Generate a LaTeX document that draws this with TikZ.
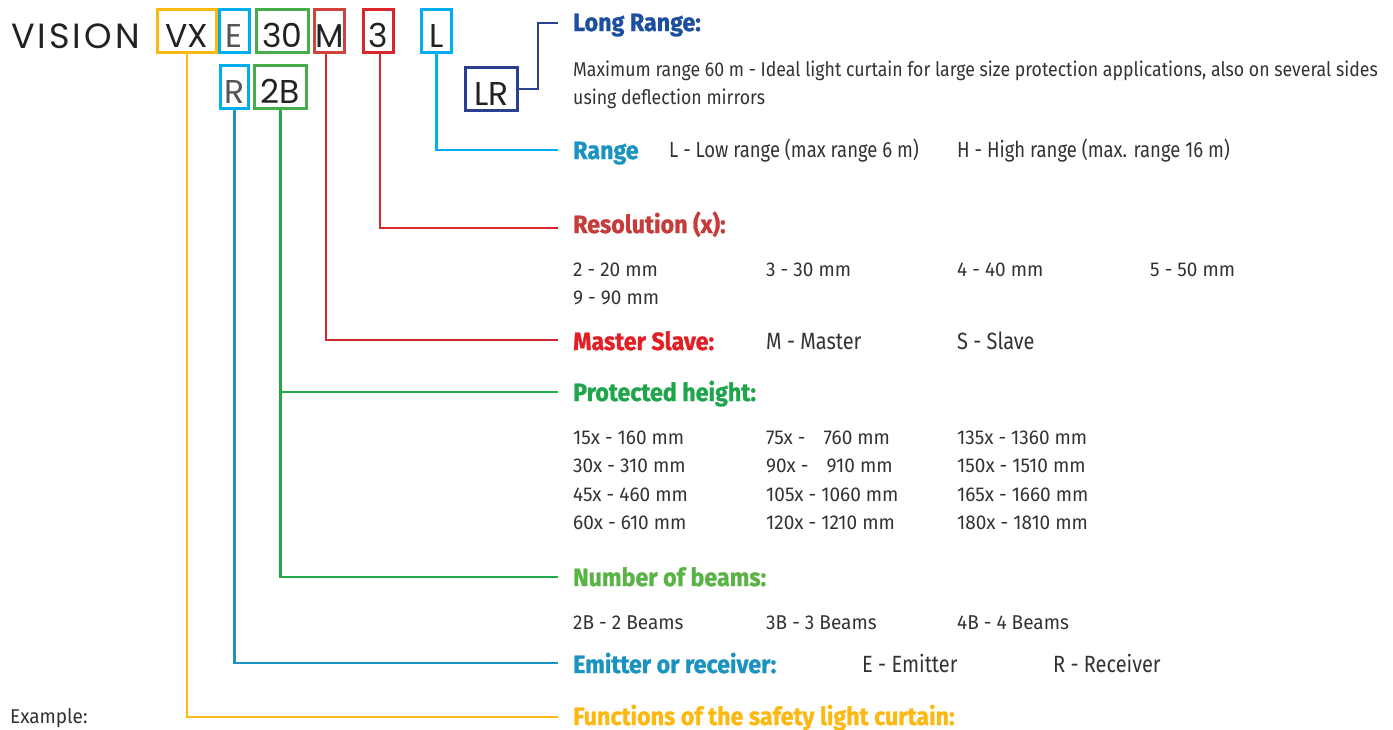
\documentclass[tikz,border=0pt]{standalone}
\usepackage{fontspec}
\newfontfamily\descf{Fira Sans}[FakeStretch=0.885]
\newfontfamily\tabf{Fira Sans}[FakeStretch=0.95]
\newfontfamily\inlf{Fira Sans}[FakeStretch=0.85]
\newfontfamily\rngf{Fira Sans}[FakeStretch=0.84]
\newfontfamily\headf{Fira Sans}[FakeStretch=0.93, FakeBold=1]
\newfontfamily\boxf{Poppins}
\newfontfamily\visf{Poppins}[LetterSpace=8.5]
\definecolor{cyel}{HTML}{FDB913}
\definecolor{ccyan}{HTML}{00AEEF}
\definecolor{cteal}{HTML}{1A93C0}
\definecolor{cgreen}{HTML}{45AE4A}
\definecolor{cgreenline}{HTML}{22A84B}
\definecolor{cgreenhead}{HTML}{1FA54B}
\definecolor{cgreenbeam}{HTML}{5AB346}
\definecolor{cmbox}{HTML}{CF423D}
\definecolor{cmline}{HTML}{D0282E}
\definecolor{cmhead}{HTML}{E31E24}
\definecolor{cred}{HTML}{D7262C}
\definecolor{creshead}{HTML}{C73B3B}
\definecolor{cnavy}{HTML}{2A3F8F}
\definecolor{clong}{HTML}{1D4F9F}
\definecolor{tdark}{HTML}{222222}
\definecolor{tgray}{HTML}{555555}
\definecolor{tbody}{HTML}{333333}
\tikzset{
  codebox/.style={draw, line width=3pt, inner sep=0pt, minimum height=43pt,
    text height=32pt, text depth=0pt, font=\boxf\fontsize{33}{36}\selectfont, text=tdark},
  head/.style={anchor=base west, inner sep=0pt, font=\headf\bfseries\fontsize{25}{30}\selectfont},
  body/.style={anchor=base west, inner sep=0pt, font=\tabf\fontsize{20}{24}\selectfont, text=tbody},
  desc/.style={body, font=\descf\fontsize{20}{24}\selectfont},
  inl/.style={body, font=\inlf\fontsize{23.5}{28}\selectfont},
  rng/.style={body, font=\rngf\fontsize{22}{26}\selectfont},
  conn/.style={line width=2.5pt},
}
\begin{document}
\begin{tikzpicture}[x=1pt,y=-1pt]
\useasboundingbox (0,0) rectangle (1393,729);
% title
\node[anchor=base west, inner sep=0pt, font=\visf\fontsize{35}{40}\selectfont, text=tdark] (vision) at (11,48) {VISION};
% code boxes
\node[codebox, draw=cyel, minimum width=59pt] (vx) at (187,31) {VX};
\node[codebox, draw=ccyan, minimum width=30pt, text=tgray] (e) at (234,31) {E};
\node[codebox, draw=cgreen, minimum width=52pt] (thirty) at (282.5,31) {30};
\node[codebox, draw=cmbox, minimum width=30pt] (m) at (329.5,31) {M};
\node[codebox, draw=cred, minimum width=30pt] (three) at (378.5,31) {3};
\node[codebox, draw=ccyan, minimum width=30pt] (l) at (436.5,31) {L};
\node[codebox, draw=ccyan, minimum width=28pt, text=tgray] (r) at (234.5,87) {R};
\node[codebox, draw=cgreen, minimum width=52pt] (twob) at (280.5,87) {2B};
\node[codebox, draw=cnavy, minimum width=52pt] (lr) at (491.5,89) {LR};
% connector ends
\coordinate (eLong) at (558,23);
\coordinate (eRange) at (558,150);
\coordinate (eRes) at (558,228);
\coordinate (eMS) at (558,340);
\coordinate (eProt) at (558,392);
\coordinate (eBeams) at (558,577);
\coordinate (eEmit) at (558,663);
\coordinate (eFunc) at (558,717);
% connectors
\draw[conn, cnavy] (lr.east) -- ++(19,0) |- (eLong);
\draw[conn, ccyan] (l.south) |- (eRange);
\draw[conn, cred] ([xshift=1.5pt]three.south) |- (eRes);
\draw[conn, cmline] ([xshift=-3.5pt]m.south) |- (eMS);
\draw[conn, cgreenline] (twob.south) |- (eBeams);
\draw[conn, cgreenline] (twob.south |- eProt) -- (eProt);
\draw[conn, cteal] (r.south) |- (eEmit);
\draw[conn, cyel] (vx.south) |- (eFunc);
% Long range
\node[head, text=clong] (hLong) at (573,31) {Long Range:};
\node[desc] (tLong1) at (573,76) {Maximum range 60 m - Ideal light curtain for large size protection applications, also on several sides};
\node[desc] (tLong2) at (573,104) {using deflection mirrors};
% Range
\node[head, text=cteal] (hRange) at (573,159) {Range};
\node[rng] (tRangeL) at (669,157.5) {L - Low range (max range 6 m)};
\node[rng] (tRangeH) at (957,157.5) {H - High range (max. range 16 m)};
% Resolution
\node[head, text=creshead] (hRes) at (573,233) {Resolution (x):};
\node[body] (r1) at (573,276) {2 - 20 mm};
\node[body] (r2) at (766,276) {3 - 30 mm};
\node[body] (r3) at (957,276) {4 - 40 mm};
\node[body] (r4) at (1150,276) {5 - 50 mm};
\node[body] (r5) at (573,304) {9 - 90 mm};
% Master slave
\node[head, text=cmhead] (hMS) at (573,350) {Master Slave:};
\node[inl] (ms1) at (766,349) {M - Master};
\node[inl] (ms2) at (957,349) {S - Slave};
% Protected height
\node[head, text=cgreenhead] (hProt) at (573,401) {Protected height:};
\node[body] (p11) at (573,444) {15x - 160 mm};
\node[body] (p12) at (573,472) {30x - 310 mm};
\node[body] (p13) at (573,501) {45x - 460 mm};
\node[body] (p14) at (573,529) {60x - 610 mm};
\node[body] (p21) at (766,444) {75x -\hspace{0.9em}760 mm};
\node[body] (p22) at (766,472) {90x -\hspace{0.9em}910 mm};
\node[body] (p23) at (766,501) {105x - 1060 mm};
\node[body] (p24) at (766,529) {120x - 1210 mm};
\node[body] (p31) at (957,444) {135x - 1360 mm};
\node[body] (p32) at (957,472) {150x - 1510 mm};
\node[body] (p33) at (957,501) {165x - 1660 mm};
\node[body] (p34) at (957,529) {180x - 1810 mm};
% Beams
\node[head, text=cgreenbeam] (hBeams) at (573,586) {Number of beams:};
\node[body] (b1) at (573,629) {2B - 2 Beams};
\node[body] (b2) at (766,629) {3B - 3 Beams};
\node[body] (b3) at (957,629) {4B - 4 Beams};
% Emitter
\node[head, text=cteal] (hEmit) at (573,673) {Emitter or receiver:};
\node[inl] (em1) at (862,672) {E - Emitter};
\node[inl] (em2) at (1053,672) {R - Receiver};
% Functions
\node[head, text=cyel] (hFunc) at (573,725) {Functions of the safety light curtain:};
\node[body] (ex) at (10,723) {Example:};
\end{tikzpicture}
\end{document}
